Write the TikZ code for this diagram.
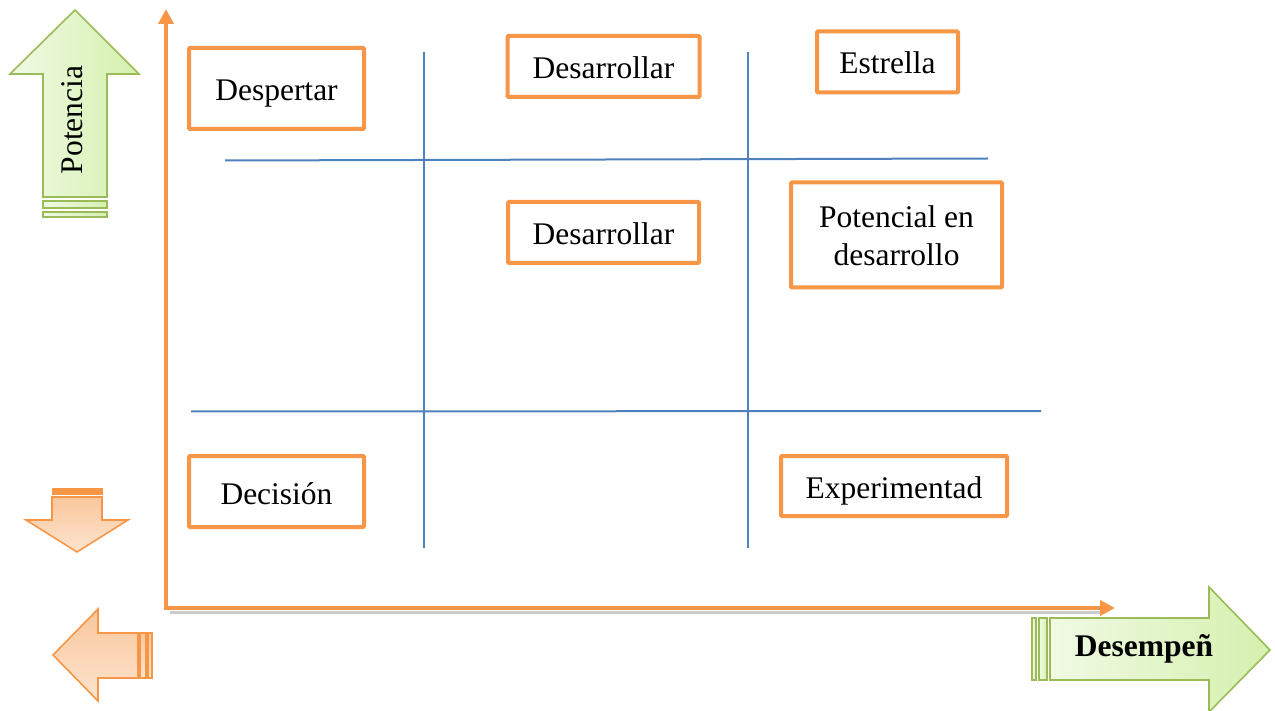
\documentclass[tikz,border=0pt]{standalone}
\usepackage{fontspec}
\setmainfont{Liberation Serif}
\usetikzlibrary{arrows.meta}
\definecolor{boxorange}{HTML}{F79646}
\definecolor{gridblue}{HTML}{4F81BD}
\definecolor{greenedge}{HTML}{9BBB59}
\definecolor{greenlight}{HTML}{F0FAE4}
\definecolor{greendark}{HTML}{D5F0AE}
\definecolor{peachlight}{HTML}{FDE4CF}
\definecolor{peachdark}{HTML}{FAC79C}
% draws text lowered by #1 pt while keeping its declared height and depth
\newcommand{\lowered}[2]{\raisebox{-#1pt}[\height][\depth]{#2}}
\tikzset{
  quad/.style={draw=boxorange, line width=4pt, fill=white, rounded corners=1pt,
    font=\fontsize{31.5}{38}\selectfont, align=center, inner sep=0pt},
  gridline/.style={draw=gridblue, line width=2pt},
  axis/.style={draw=boxorange, line width=4pt, -{Triangle[length=15pt,width=15pt]}},
  greenshape/.style={draw=greenedge, line width=1.6pt, left color=greenlight, right color=greendark},
  peachshape/.style={draw=boxorange, line width=1.6pt, top color=peachdark, bottom color=peachlight},
}
\begin{document}
\begin{tikzpicture}[x=1pt,y=-1pt]
\useasboundingbox (0,0) rectangle (1275,711);

% quadrant grid
\coordinate (v1t) at (424,52);  \coordinate (v1b) at (424,548);
\coordinate (v2t) at (748,52);  \coordinate (v2b) at (748,548);
\coordinate (h1l) at (225,160.5); \coordinate (h1r) at (988,158.5);
\coordinate (h2l) at (191,411.5); \coordinate (h2r) at (1041,411);
\draw[gridline] (v1t) -- (v1b);
\draw[gridline] (v2t) -- (v2b);
\draw[gridline] (h1l) -- (h1r);
\draw[gridline] (h2l) -- (h2r);

% axes
\coordinate (origin) at (166,608);
\coordinate (ytip) at (166,9);
\coordinate (xtip) at (1115,608);
\draw[gray!40, line width=3pt] (170,612) -- (1100,612);
\draw[axis] (166,610) -- (ytip);
\draw[axis] (164,608) -- (xtip);

% labelled boxes
\node[quad, minimum width=175pt, minimum height=81pt] (despertar) at (276.5,88.5) {\lowered{5}{Despertar}};
\node[quad, minimum width=192pt, minimum height=61pt] (desarr1) at (603.5,66.5) {\lowered{1}{Desarrollar}};
\node[quad, minimum width=141pt, minimum height=61pt] (estrella) at (887.5,62) {\lowered{1}{Estrella}};
\node[quad, minimum width=191pt, minimum height=61pt] (desarr2) at (603.5,232.5) {\lowered{1}{Desarrollar}};
\node[quad, minimum width=211pt, minimum height=105pt] (potencial) at (896.5,235) {\lowered{4}{\begin{tabular}{@{}c@{}}Potencial en\\[0pt]desarrollo\end{tabular}}};
\node[quad, minimum width=175pt, minimum height=71pt] (decision) at (276.5,491.5) {\lowered{2}{Decisión}};
\node[quad, minimum width=226pt, minimum height=60pt] (experim) at (894,486) {\lowered{5}{Experimentad}};

% green up arrow (Potencia)
\path[greenshape] (43,197) -- (43,74) -- (10,74) -- (75,10) -- (139,74) -- (107,74) -- (107,197) -- cycle;
\path[greenshape] (43,201) rectangle (107,208);
\path[greenshape] (43,212) rectangle (107,217);
\node[rotate=90, font=\fontsize{31.5}{38}\selectfont] (potencia) at (72,120) {Potencia};

% peach down arrow
\path[peachshape] (52,497) -- (102,497) -- (102,520) -- (128,520) -- (77,552) -- (26,520) -- (52,520) -- cycle;
\path[draw=boxorange, fill=boxorange, line width=1pt] (52,488) rectangle (102,494);

% peach left arrow
\path[peachshape] (53,655) -- (98,609) -- (98,633) -- (138,633) -- (138,678) -- (98,678) -- (98,701) -- cycle;
\path[peachshape] (140,633) rectangle (146,678);
\path[peachshape] (148,633) rectangle (152,678);

% green right arrow (Desempeñ)
\path[greenshape] (1050,618) -- (1209,618) -- (1209,587) -- (1270,650) -- (1209,712) -- (1209,680) -- (1050,680) -- cycle;
\path[greenshape] (1032,618) rectangle (1036,680);
\path[greenshape] (1039,618) rectangle (1047,680);
\node[font=\fontsize{31.5}{38}\selectfont\bfseries] (desempeno) at (1144,649) {Desempeñ};
\end{tikzpicture}
\end{document}
